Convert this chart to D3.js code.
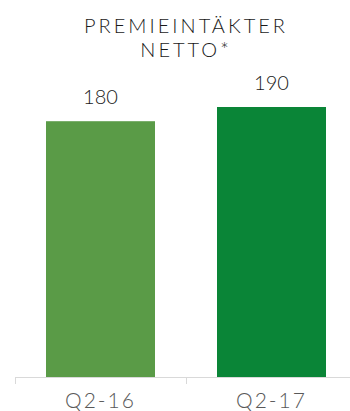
<!DOCTYPE html>
<html>
<head>
<meta charset="utf-8">
<style>
  body { margin: 0; background: #fff; }
  svg { display: block; }
</style>
</head>
<body>
<div id="chart"></div>
<script src="https://cdnjs.cloudflare.com/ajax/libs/d3/7.8.5/d3.min.js"></script>
<script>
  // Data
  const categories = ["Q2-16", "Q2-17"];
  const values = [180, 190];
  const colors = ["#5a9b47", "#0a8537"];
  const titleLines = ["PREMIEINTÄKTER", "NETTO*"];

  const width = 350;
  const height = 411;
  const baseY = 377;

  const svg = d3.create("svg")
    .attr("width", width)
    .attr("height", height)
    .attr("viewBox", [0, 0, width, height]);

  // Band scale runs past the right edge, like the original crop
  const x = d3.scaleBand()
    .domain(categories)
    .range([15, 357])
    .paddingInner(0.3626)
    .paddingOuter(0.1813);

  const y = d3.scaleLinear()
    .domain([0, 190])
    .range([baseY, baseY - 270]);

  // Bars
  svg.append("g")
    .selectAll("rect")
    .data(values)
    .join("rect")
    .attr("x", (d, i) => x(categories[i]))
    .attr("y", d => y(d))
    .attr("width", x.bandwidth())
    .attr("height", d => y(0) - y(d))
    .attr("fill", (d, i) => colors[i]);

  // Value labels
  svg.append("g")
    .selectAll("text")
    .data(values)
    .join("text")
    .attr("x", (d, i) => x(categories[i]) + x.bandwidth() / 2)
    .attr("y", d => y(d) - 17)
    .attr("text-anchor", "middle")
    .attr("font-family", "Lato, sans-serif")
    .attr("font-weight", 300)
    .attr("font-size", 20)
    .attr("fill", "#1a1a1a")
    .text(d => d);

  // Axis line and ticks at band edges
  const axis = svg.append("g").attr("stroke", "#d9d9d9").attr("stroke-width", 1);
  axis.append("line")
    .attr("x1", 15).attr("x2", width)
    .attr("y1", baseY + 0.5).attr("y2", baseY + 0.5);
  axis.selectAll(".tick")
    .data(categories.concat([null]))
    .join("line")
    .attr("x1", (d, i) => 15.5 + i * x.step())
    .attr("x2", (d, i) => 15.5 + i * x.step())
    .attr("y1", baseY).attr("y2", baseY + 7);

  // Category labels
  svg.append("g")
    .selectAll("text")
    .data(categories)
    .join("text")
    .attr("x", d => x(d) + x.bandwidth() / 2)
    .attr("y", 408)
    .attr("text-anchor", "middle")
    .attr("font-family", "Lato, sans-serif")
    .attr("font-weight", 300)
    .attr("font-size", 21)
    .attr("letter-spacing", 2)
    .attr("fill", "#595959")
    .text(d => d);

  // Title
  svg.append("text")
    .attr("text-anchor", "middle")
    .attr("font-family", "Lato, sans-serif")
    .attr("font-weight", 300)
    .attr("font-size", 20)
    .attr("letter-spacing", 3)
    .attr("fill", "#1a1a1a")
    .selectAll("tspan")
    .data(titleLines)
    .join("tspan")
    .attr("x", 186)
    .attr("y", (d, i) => 33 + i * 24)
    .text(d => d);

  d3.select("#chart").node().appendChild(svg.node());
</script>
</body>
</html>
